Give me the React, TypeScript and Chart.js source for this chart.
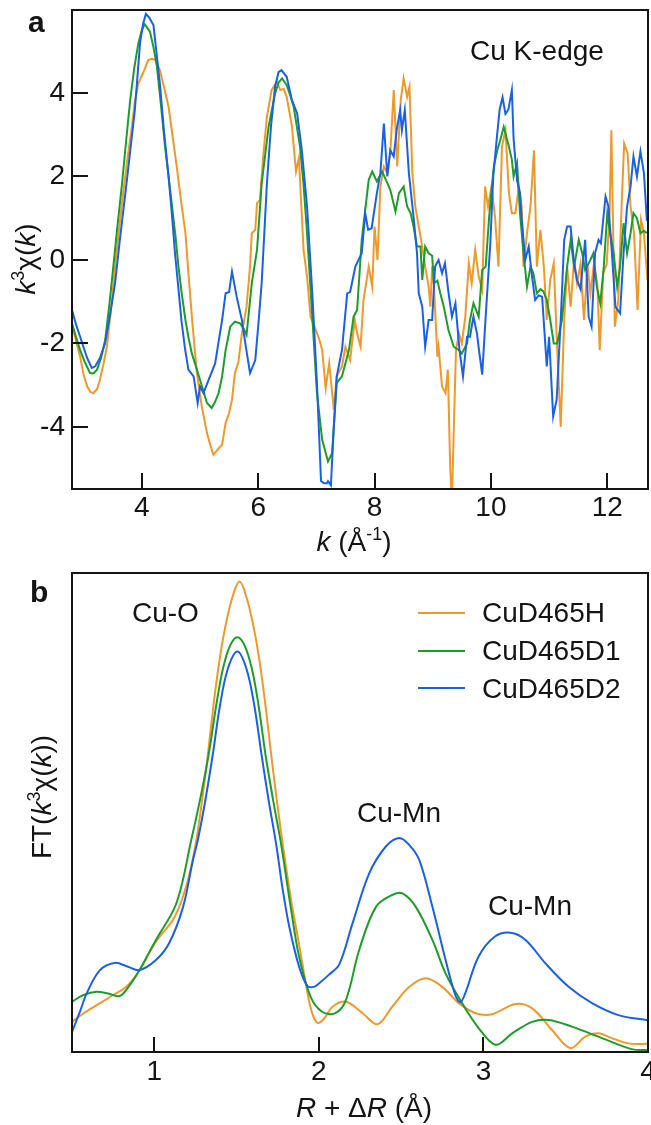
import React, { useEffect, useRef } from "react";
import { Chart, registerables } from "chart.js";
Chart.register(...registerables);

const FONT = '"Liberation Sans", Arial, Helvetica, sans-serif';
const INK = "#141414";
const COLORS = ["#EF982C", "#1F9B2B", "#1B60E4"];

const seriesNames = ["CuD465H", "CuD465D1", "CuD465D2"];
const kTicks = [4, 6, 8, 10, 12];
const chiTicks = [-4, -2, 0, 2, 4];
const rTicks = [1, 2, 3, 4];

type P = [number, number];

// panel a: k^3 chi(k)
const chiH: P[] = [
  [2.8, -1.55], [2.87, -1.95], [2.94, -2.32], [3.0, -2.75], [3.06, -3.03], [3.12, -3.17], [3.17, -3.19], [3.23, -3.1],
  [3.28, -2.87], [3.34, -2.5], [3.4, -2.08], [3.47, -1.2], [3.54, -0.16], [3.61, 0.75], [3.68, 1.6], [3.75, 2.4],
  [3.83, 3.2], [3.88, 3.8], [3.94, 4.23], [4.03, 4.51], [4.11, 4.79], [4.17, 4.82], [4.23, 4.8], [4.31, 4.55],
  [4.38, 4.15], [4.46, 3.67], [4.53, 2.95], [4.6, 2.24], [4.67, 1.45], [4.75, 0.64], [4.8, -0.3], [4.86, -1.36],
  [4.94, -2.63], [5.03, -3.51], [5.12, -4.15], [5.18, -4.45], [5.23, -4.67], [5.3, -4.55], [5.35, -4.47], [5.38, -4.43],
  [5.44, -3.91], [5.5, -3.67], [5.55, -3.35], [5.6, -2.71], [5.66, -2.45], [5.72, -1.76], [5.8, -1.12], [5.86, -0.16],
  [5.89, 0.64], [5.95, 0.72], [5.98, 1.36], [6.03, 1.44], [6.09, 2.55], [6.15, 3.43], [6.23, 4.07], [6.32, 4.27],
  [6.38, 4.07], [6.44, 4.1], [6.49, 3.91], [6.58, 3.2], [6.65, 2.12], [6.7, 2.45], [6.78, 0.24], [6.84, -0.4],
  [6.9, -1.36], [6.99, -1.68], [7.05, -1.9], [7.1, -2.16], [7.16, -3.07], [7.22, -2.48], [7.3, -3.59], [7.35, -2.79],
  [7.44, -2.55], [7.5, -2.08], [7.58, -2.4], [7.66, -1.44], [7.7, -1.76], [7.76, -2.08], [7.81, -0.96], [7.9, -0.16],
  [7.96, -0.64], [8.0, 0.8], [8.05, 0.0], [8.1, 1.76], [8.16, 2.24], [8.22, 2.08], [8.27, 2.55], [8.33, 4.07],
  [8.39, 2.24], [8.45, 3.83], [8.5, 4.35], [8.56, 3.91], [8.6, 4.15], [8.65, 2.08], [8.7, 1.28], [8.76, 0.8],
  [8.82, 0.32], [8.87, -0.16], [8.93, -0.64], [8.96, -1.12], [8.99, -0.16], [9.02, -0.6], [9.08, -2.32], [9.1, -2.08],
  [9.16, -3.03], [9.22, -3.19], [9.26, -2.63], [9.3, -4.95], [9.33, -5.8], [9.36, -4.15], [9.4, -2.16], [9.45, -1.76],
  [9.5, -2.0], [9.56, -1.36], [9.62, -0.08], [9.67, -0.56], [9.73, 0.24], [9.79, -0.4], [9.85, -0.72], [9.9, 1.76],
  [9.95, 1.28], [10.01, 1.76], [10.07, 1.04], [10.13, -0.16], [10.19, 2.71], [10.25, 3.11], [10.31, 1.6], [10.36, 1.12],
  [10.42, 1.12], [10.48, 1.76], [10.53, 1.28], [10.56, -0.16], [10.62, 0.64], [10.68, 1.28], [10.74, 2.63], [10.79, -0.16],
  [10.85, 0.72], [10.91, -0.16], [10.96, -1.44], [11.02, -0.48], [11.08, -0.08], [11.14, -2.16], [11.2, -4.0], [11.26, -1.44],
  [11.31, -0.16], [11.37, -1.12], [11.43, 0.0], [11.48, -0.56], [11.54, -0.1], [11.6, -1.44], [11.66, -0.1], [11.71, -0.8],
  [11.77, -0.1], [11.83, -0.6], [11.87, -2.16], [11.93, -0.32], [11.99, -0.1], [12.04, 1.12], [12.07, 3.11], [12.13, -1.6],
  [12.19, -0.96], [12.25, 1.44], [12.29, 2.79], [12.35, 2.55], [12.4, 1.28], [12.46, 0.64], [12.52, -1.2], [12.58, 0.96],
  [12.63, 0.64], [12.69, -0.48], [12.72, 0.2],
];

const chiD1: P[] = [
  [2.8, -1.52], [2.87, -1.85], [2.94, -2.16], [3.02, -2.45], [3.11, -2.71], [3.17, -2.72], [3.23, -2.63], [3.3, -2.35],
  [3.37, -1.92], [3.44, -1.1], [3.51, -0.16], [3.58, 0.8], [3.66, 1.83], [3.73, 2.85], [3.8, 3.83], [3.87, 4.6],
  [3.94, 5.19], [4.0, 5.5], [4.05, 5.65], [4.14, 5.47], [4.2, 5.1], [4.26, 4.63], [4.33, 3.7], [4.4, 2.71],
  [4.46, 2.0], [4.52, 1.28], [4.58, 0.55], [4.63, -0.16], [4.69, -0.85], [4.75, -1.44], [4.8, -1.85], [4.86, -2.24],
  [4.93, -2.55], [5.0, -2.87], [5.06, -3.15], [5.12, -3.43], [5.2, -3.55], [5.26, -3.4], [5.32, -3.19], [5.38, -2.79],
  [5.44, -2.16], [5.52, -1.6], [5.6, -1.48], [5.69, -1.52], [5.75, -1.65], [5.8, -1.8], [5.89, -0.56], [5.98, 0.24],
  [6.06, 1.83], [6.18, 3.2], [6.29, 3.99], [6.35, 4.25], [6.41, 4.35], [6.49, 4.19], [6.55, 3.95], [6.61, 3.67],
  [6.72, 2.71], [6.78, 1.8], [6.84, 0.64], [6.93, -1.36], [7.01, -3.19], [7.1, -4.31], [7.2, -4.83], [7.27, -4.63],
  [7.35, -2.95], [7.44, -2.79], [7.56, -2.16], [7.64, -1.36], [7.7, -1.2], [7.78, 0.48], [7.9, 1.92], [7.96, 2.12],
  [8.04, 1.88], [8.13, 2.12], [8.22, 1.84], [8.27, 1.68], [8.36, 1.16], [8.42, 1.6], [8.5, 1.76], [8.56, 1.28],
  [8.62, 1.12], [8.67, 0.8], [8.73, 0.32], [8.79, 0.32], [8.82, -0.48], [8.87, 0.32], [8.93, 0.16], [8.99, 0.1],
  [9.02, -0.56], [9.08, -0.5], [9.13, -0.8], [9.19, -1.12], [9.27, -1.68], [9.36, -2.08], [9.45, -2.16], [9.5, -2.24],
  [9.59, -2.0], [9.64, -1.44], [9.7, -1.04], [9.79, -1.36], [9.85, -0.24], [9.91, -0.16], [9.97, 1.04], [10.05, 2.24],
  [10.11, 2.63], [10.16, 2.87], [10.22, 3.19], [10.31, 2.71], [10.36, 2.4], [10.39, 2.0], [10.45, 2.32], [10.5, 1.12],
  [10.56, 0.16], [10.62, -0.64], [10.68, -0.16], [10.73, -0.32], [10.79, -0.8], [10.85, -0.7], [10.9, -0.75], [10.96, -0.96],
  [11.02, -1.44], [11.08, -2.0], [11.14, -2.0], [11.22, -1.44], [11.31, -0.16], [11.37, 0.48], [11.43, -0.16], [11.51, 0.48],
  [11.57, 0.16], [11.62, -0.24], [11.71, 0.0], [11.76, 0.16], [11.82, -0.64], [11.88, -1.04], [11.94, -0.16], [12.0, 1.12],
  [12.05, 0.64], [12.11, 0.16], [12.17, -0.64], [12.22, -0.16], [12.28, 0.88], [12.34, 0.16], [12.4, 0.64], [12.45, 1.12],
  [12.51, 1.0], [12.57, 0.64], [12.63, 0.7], [12.68, 0.64],
];

const chiD2: P[] = [
  [2.8, -1.2], [2.87, -1.55], [2.94, -1.84], [3.0, -2.1], [3.06, -2.35], [3.14, -2.59], [3.2, -2.55], [3.28, -2.35],
  [3.37, -1.99], [3.45, -1.35], [3.54, -0.56], [3.62, 0.45], [3.71, 1.51], [3.8, 2.6], [3.88, 3.59], [3.97, 5.2],
  [4.02, 5.65], [4.07, 5.9], [4.13, 5.8], [4.2, 5.63], [4.31, 4.23], [4.38, 3.1], [4.46, 1.99], [4.52, 1.05],
  [4.57, 0.16], [4.63, -0.7], [4.68, -1.44], [4.74, -2.1], [4.8, -2.63], [4.89, -2.79], [4.96, -3.43], [5.0, -3.03],
  [5.06, -3.19], [5.15, -2.87], [5.26, -2.48], [5.32, -1.96], [5.38, -1.44], [5.44, -0.8], [5.5, -0.77], [5.55, -0.28],
  [5.63, -0.88], [5.72, -1.44], [5.79, -2.1], [5.86, -2.71], [5.95, -2.4], [6.0, -1.6], [6.06, -0.56], [6.15, 1.83],
  [6.22, 3.2], [6.29, 4.15], [6.35, 4.5], [6.4, 4.55], [6.49, 4.39], [6.58, 3.83], [6.67, 3.51], [6.75, 2.63],
  [6.84, 1.28], [6.93, -0.8], [7.01, -2.95], [7.08, -5.3], [7.13, -5.35], [7.18, -5.35], [7.2, -5.3], [7.25, -5.4],
  [7.3, -4.0], [7.35, -2.79], [7.44, -2.16], [7.53, -0.8], [7.58, -0.77], [7.67, -0.16], [7.78, 0.16], [7.84, 1.12],
  [7.89, 0.72], [7.95, 0.76], [8.04, 1.6], [8.1, 2.08], [8.16, 3.27], [8.22, 2.0], [8.27, 2.63], [8.33, 2.48],
  [8.38, 3.11], [8.44, 3.59], [8.47, 3.11], [8.52, 3.59], [8.59, 2.08], [8.67, 1.04], [8.73, 0.16], [8.76, -0.8],
  [8.82, -1.12], [8.87, -2.08], [8.93, -1.44], [8.99, -1.44], [9.04, -0.16], [9.1, 0.0], [9.16, -0.32], [9.21, -0.08],
  [9.27, -0.77], [9.33, -1.36], [9.39, -1.04], [9.46, -2.16], [9.52, -2.79], [9.59, -1.84], [9.64, -1.84], [9.7, -1.36],
  [9.76, -1.76], [9.79, -2.1], [9.85, -2.75], [9.91, -1.36], [9.99, 0.4], [10.04, 2.0], [10.1, 2.9], [10.15, 3.6],
  [10.2, 3.9], [10.25, 3.5], [10.3, 3.6], [10.36, 4.07], [10.39, 2.9], [10.45, 1.9], [10.5, 1.6], [10.53, 0.96],
  [10.59, 0.0], [10.65, 0.32], [10.7, -0.32], [10.76, -0.96], [10.82, -0.85], [10.88, -0.88], [10.96, -2.55], [11.0, -1.84],
  [11.07, -3.75], [11.13, -3.35], [11.2, -1.44], [11.26, 0.48], [11.31, 0.8], [11.37, 0.8], [11.43, -0.08], [11.48, -0.48],
  [11.54, -0.7], [11.62, 0.48], [11.68, -1.36], [11.73, -1.6], [11.79, 0.16], [11.85, 0.48], [11.89, 0.4], [11.97, 1.52],
  [12.02, 1.28], [12.08, 0.16], [12.14, -1.12], [12.22, -1.28], [12.28, 0.16], [12.34, 1.28], [12.4, 1.76], [12.45, 2.48],
  [12.51, 2.0], [12.57, 2.6], [12.63, 2.08], [12.68, 0.96], [12.72, 0.9],
];

// panel b: FT magnitude (arbitrary units, 0-100)
const ftH: P[] = [
  [0.5, 6.3], [0.58, 8.3], [0.67, 10.2], [0.75, 11.9], [0.83, 13.6], [0.91, 17.0], [0.99, 22.0], [1.05, 24.8],
  [1.114, 27.6], [1.17, 32.0], [1.215, 37.3], [1.256, 44.3], [1.29, 52.5], [1.322, 61], [1.36, 72.5], [1.395, 81.5],
  [1.43, 88.5], [1.475, 95.0], [1.518, 98.2], [1.56, 95.0], [1.605, 88.5], [1.64, 81.5], [1.675, 72.5], [1.714, 61],
  [1.745, 52.5], [1.78, 43.5], [1.83, 32], [1.88, 22.4], [1.925, 13.5], [1.955, 8.6], [1.99, 6.1], [2.03, 6.9],
  [2.084, 9.5], [2.165, 10.5], [2.266, 8.1], [2.357, 5.8], [2.447, 9.5], [2.55, 13.6], [2.65, 15.4], [2.75, 13.6],
  [2.85, 10.2], [2.953, 8.1], [3.053, 7.9], [3.195, 10.0], [3.296, 9.1], [3.417, 4.6], [3.528, 0.8], [3.619, 3.2],
  [3.7, 3.9], [3.78, 2.9], [3.88, 1.8], [4.0, 1.7],
];

const ftD1: P[] = [
  [0.5, 10.5], [0.57, 11.9], [0.65, 12.6], [0.72, 12.2], [0.79, 11.7], [0.85, 13.9], [0.91, 17.1], [1.01, 23.4],
  [1.135, 31.1], [1.225, 44.3], [1.28, 53], [1.33, 62], [1.377, 72.5], [1.417, 80.0], [1.46, 84.8], [1.505, 86.6],
  [1.55, 84.8], [1.593, 80.0], [1.633, 72.5], [1.676, 62], [1.725, 52], [1.77, 43.5], [1.83, 30], [1.88, 19.9],
  [1.95, 11.5], [2.02, 8.4], [2.1, 8.1], [2.165, 10.9], [2.245, 21.3], [2.347, 30.3], [2.447, 32.8], [2.508, 33.1],
  [2.589, 30.3], [2.69, 23.4], [2.77, 16.4], [2.87, 10.2], [2.973, 4.9], [3.074, 1.5], [3.175, 3.9], [3.296, 6.3],
  [3.397, 6.7], [3.538, 5.3], [3.72, 2.9], [3.9, 0.6], [4.0, 0.4],
];

const ftD2: P[] = [
  [0.5, 4.2], [0.55, 8.6], [0.59, 12.3], [0.67, 17.1], [0.76, 18.6], [0.84, 17.8], [0.91, 17.1], [1.01, 19.2],
  [1.09, 22.7], [1.175, 30.3], [1.235, 40.1], [1.265, 44.3], [1.31, 52.5], [1.355, 62], [1.4, 72.5], [1.447, 80.0],
  [1.505, 83.6], [1.56, 80.0], [1.607, 72.5], [1.652, 62], [1.695, 52.5], [1.74, 43.5], [1.78, 34], [1.82, 26.2],
  [1.88, 17.8], [1.93, 13.8], [1.97, 13.6], [2.0, 14.3], [2.06, 16.1], [2.124, 18.3], [2.205, 26.9], [2.306, 37.3],
  [2.407, 42.9], [2.488, 44.7], [2.55, 43.2], [2.61, 40.1], [2.69, 30.3], [2.77, 19.2], [2.83, 11.8], [2.86, 10.4],
  [2.89, 12.3], [2.97, 19.9], [3.07, 24.1], [3.165, 24.9], [3.256, 23.4], [3.377, 18.5], [3.518, 13.6], [3.66, 10.2],
  [3.82, 7.7], [4.0, 6.6],
];

type Seg = { t: string; it?: boolean; sup?: boolean; bold?: boolean };

function drawRich(
  ctx: CanvasRenderingContext2D,
  segs: Seg[],
  x: number,
  y: number,
  size: number,
  align: "left" | "center",
  rotate = false
) {
  ctx.save();
  ctx.translate(x, y);
  if (rotate) ctx.rotate(-Math.PI / 2);
  const fontFor = (s: Seg) =>
    `${s.it ? "italic " : ""}${s.bold ? "bold " : ""}${s.sup ? Math.round(size * 0.66) : size}px ${FONT}`;
  let total = 0;
  const widths = segs.map((s) => {
    ctx.font = fontFor(s);
    const w = ctx.measureText(s.t).width;
    total += w;
    return w;
  });
  let cx = align === "center" ? -total / 2 : 0;
  ctx.textAlign = "left";
  ctx.textBaseline = "alphabetic";
  ctx.fillStyle = INK;
  segs.forEach((s, i) => {
    ctx.font = fontFor(s);
    ctx.fillText(s.t, cx, s.sup ? -size * 0.4 : 0);
    cx += widths[i];
  });
  ctx.restore();
}

const tickFont = { family: FONT, size: 28 };

const panelAPlugin = {
  id: "panelA",
  afterDraw(chart: any) {
    const { ctx, chartArea: a, scales } = chart;
    ctx.save();
    ctx.strokeStyle = INK;
    ctx.lineWidth = 2;
    ctx.strokeRect(a.left, a.top, a.right - a.left, a.bottom - a.top);
    ctx.beginPath();
    kTicks.forEach((v) => {
      const px = Math.round(scales.x.getPixelForValue(v));
      ctx.moveTo(px, a.bottom);
      ctx.lineTo(px, a.bottom - 16);
    });
    chiTicks.forEach((v) => {
      const py = Math.round(scales.y.getPixelForValue(v));
      ctx.moveTo(a.left, py);
      ctx.lineTo(a.left + 16, py);
    });
    ctx.stroke();
    ctx.restore();
    drawRich(ctx, [{ t: "a", bold: true }], 28, 32, 30, "left");
    drawRich(ctx, [{ t: "Cu K-edge" }], 470, 60, 28, "left");
    drawRich(ctx, [{ t: "k", it: true }, { t: " (Å" }, { t: "-1", sup: true }, { t: ")" }], 354, 551, 28, "center");
    drawRich(
      ctx,
      [{ t: "k", it: true }, { t: "3", sup: true }, { t: "χ(" }, { t: "k", it: true }, { t: ")" }],
      35,
      259,
      28,
      "center",
      true
    );
  },
};

const OFF_B = 560;

const panelBPlugin = {
  id: "panelB",
  afterDraw(chart: any) {
    const { ctx, chartArea: a, scales } = chart;
    ctx.save();
    ctx.strokeStyle = INK;
    ctx.lineWidth = 2;
    ctx.strokeRect(a.left, a.top, a.right - a.left, a.bottom - a.top);
    ctx.beginPath();
    rTicks.forEach((v) => {
      const px = Math.round(scales.x.getPixelForValue(v));
      ctx.moveTo(px, a.bottom);
      ctx.lineTo(px, a.bottom - 15);
    });
    ctx.stroke();
    // legend
    const rowsY = [613, 651, 688];
    const baseY = [622, 660, 698];
    chart.data.datasets.forEach((ds: any, i: number) => {
      ctx.strokeStyle = ds.borderColor;
      ctx.lineWidth = 2;
      ctx.beginPath();
      ctx.moveTo(418, rowsY[i] - OFF_B);
      ctx.lineTo(465, rowsY[i] - OFF_B);
      ctx.stroke();
      drawRich(ctx, [{ t: ds.label }], 482, baseY[i] - OFF_B, 28, "left");
    });
    ctx.restore();
    drawRich(ctx, [{ t: "b", bold: true }], 30, 602 - OFF_B, 30, "left");
    drawRich(ctx, [{ t: "Cu-O" }], 132, 622 - OFF_B, 28, "left");
    drawRich(ctx, [{ t: "Cu-Mn" }], 357, 822 - OFF_B, 28, "left");
    drawRich(ctx, [{ t: "Cu-Mn" }], 488, 915 - OFF_B, 28, "left");
    drawRich(
      ctx,
      [{ t: "R", it: true }, { t: " + Δ" }, { t: "R", it: true }, { t: " (Å)" }],
      364,
      1117 - OFF_B,
      28,
      "center"
    );
    drawRich(
      ctx,
      [{ t: "FT(" }, { t: "k", it: true }, { t: "3", sup: true }, { t: "χ(" }, { t: "k", it: true }, { t: "))" }],
      51,
      797 - OFF_B,
      28,
      "center",
      true
    );
  },
};

function toXY(d: P[]) {
  return d.map(([x, y]) => ({ x, y }));
}

function makeDatasets(series: P[][], smooth: boolean) {
  return series.map((d, i) => ({
    label: seriesNames[i],
    data: toXY(d),
    borderColor: COLORS[i],
    backgroundColor: COLORS[i],
    borderWidth: 2,
    pointRadius: 0,
    fill: false,
    clip: 0,
    order: 2 - i,
    tension: smooth ? 0.35 : 0,
  }));
}

export default function App() {
  const refA = useRef<HTMLCanvasElement | null>(null);
  const refB = useRef<HTMLCanvasElement | null>(null);

  useEffect(() => {
    const chartA = new Chart(refA.current as HTMLCanvasElement, {
      type: "line",
      data: { datasets: makeDatasets([chiH, chiD1, chiD2], false) as any },
      plugins: [panelAPlugin],
      options: {
        animation: false,
        responsive: false,
        devicePixelRatio: 1,
        layout: { padding: { top: 10, right: 3, left: 0, bottom: 0 } },
        plugins: { legend: { display: false }, tooltip: { enabled: false } },
        scales: {
          x: {
            type: "linear",
            min: 2.8,
            max: 12.7,
            afterBuildTicks: (s: any) => {
              s.ticks = kTicks.map((v) => ({ value: v }));
            },
            afterFit: (s: any) => {
              s.height = 71;
              s.paddingLeft = 0;
              s.paddingRight = 0;
            },
            grid: { display: false, drawTicks: false },
            border: { display: false },
            ticks: { font: tickFont, color: INK, padding: 2, maxRotation: 0, autoSkip: false },
          },
          y: {
            type: "linear",
            min: -5.49,
            max: 5.99,
            afterBuildTicks: (s: any) => {
              s.ticks = chiTicks.map((v) => ({ value: v }));
            },
            afterFit: (s: any) => {
              s.width = 72;
              s.paddingTop = 0;
              s.paddingBottom = 0;
            },
            grid: { display: false, drawTicks: false },
            border: { display: false },
            ticks: { font: tickFont, color: INK, padding: 7, autoSkip: false },
          },
        },
      } as any,
    });

    const chartB = new Chart(refB.current as HTMLCanvasElement, {
      type: "line",
      data: { datasets: makeDatasets([ftH, ftD1, ftD2], true) as any },
      plugins: [panelBPlugin],
      options: {
        animation: false,
        responsive: false,
        devicePixelRatio: 1,
        layout: { padding: { top: 13, right: 3, left: 0, bottom: 0 } },
        plugins: { legend: { display: false }, tooltip: { enabled: false } },
        scales: {
          x: {
            type: "linear",
            min: 0.5,
            max: 4,
            afterBuildTicks: (s: any) => {
              s.ticks = rTicks.map((v) => ({ value: v }));
            },
            afterFit: (s: any) => {
              s.height = 73;
              s.paddingLeft = 0;
              s.paddingRight = 0;
            },
            grid: { display: false, drawTicks: false },
            border: { display: false },
            ticks: { font: tickFont, color: INK, padding: 3, maxRotation: 0, autoSkip: false },
          },
          y: {
            type: "linear",
            min: 0,
            max: 100,
            afterFit: (s: any) => {
              s.width = 72;
              s.paddingTop = 0;
              s.paddingBottom = 0;
            },
            grid: { display: false, drawTicks: false },
            border: { display: false },
            ticks: { display: false },
          },
        },
      } as any,
    });

    return () => {
      chartA.destroy();
      chartB.destroy();
    };
  }, []);

  return (
    <div style={{ position: "absolute", left: 0, top: 0, width: 651, height: 1125, background: "#fff" }}>
      <canvas ref={refA} width={651} height={560} style={{ position: "absolute", left: 0, top: 0, display: "block" }} />
      <canvas ref={refB} width={651} height={565} style={{ position: "absolute", left: 0, top: 560, display: "block" }} />
    </div>
  );
}
